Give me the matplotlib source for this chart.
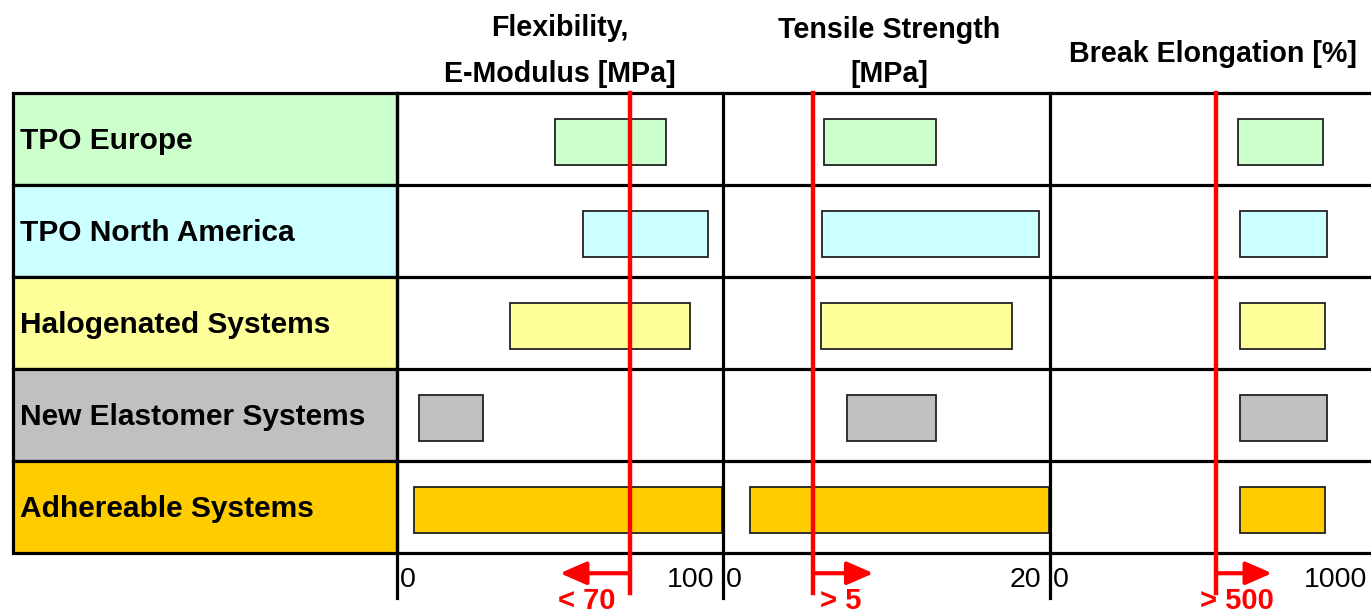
import matplotlib
matplotlib.use("Agg")
import matplotlib.pyplot as plt
from matplotlib.patches import Rectangle
import matplotlib.transforms as mtransforms

# ---------------- data ----------------
categories = ["TPO Europe", "TPO North America", "Halogenated Systems",
              "New Elastomer Systems", "Adhereable Systems"]
row_colors = ["#CCFFCC", "#CCFFFF", "#FFFF99", "#C0C0C0", "#FFCC00"]

panel_titles = ["Flexibility,\nE-Modulus [MPa]", "Tensile Strength\n[MPa]", "Break Elongation [%]"]
axis_max = [100, 20, 1000]
tick_left = ["0", "0", "0"]
tick_right = ["100", "20", "1000"]

# ranges (low, high) per category for each property
flex_low = [48.5, 57, 34.7, 6.7, 5.2]
flex_high = [82.5, 95.4, 89.9, 26.4, 99.7]
tensile_low = [6.2, 6.05, 6.0, 7.6, 1.65]
tensile_high = [13.0, 19.3, 17.7, 13.0, 19.95]
elong_low = [577, 583, 583, 583, 583]
elong_high = [837, 850, 844, 850, 844]

# requirement thresholds
thr_pos = [71.5, 5.5, 509]
thr_arrow_tip = [50, 9.2, 681]
thr_labels = ["< 70", "> 5", "> 500"]

lows = [flex_low, tensile_low, elong_low]
highs = [flex_high, tensile_high, elong_high]

# ---------------- layout ----------------
W, H = 1371, 615
fig = plt.figure(figsize=(W / 100, H / 100), dpi=100)


def rect(x0, x1, ytop, ybot):
    return [x0 / W, 1 - ybot / H, (x1 - x0) / W, (ybot - ytop) / H]


TOP, BOT = 93, 553
FONT = ["Liberation Sans", "DejaVu Sans"]
LW = 2.3
n = len(categories)

# label column
lab = fig.add_axes(rect(13, 397, TOP, BOT))
lab.set_xlim(0, 1)
lab.set_ylim(n, 0)
lab.axis("off")
for i, (c, col) in enumerate(zip(categories, row_colors)):
    lab.add_patch(Rectangle((0, i), 1, 1, facecolor=col, edgecolor="black",
                            lw=LW, clip_on=False))
    lab.text(0.018, i + 0.52, c, ha="left", va="center", fontsize=21.5,
             fontweight="bold", family=FONT)

# panels
panel_x = [(397, 723), (723, 1050), (1050, 1376)]
title_cx = [560, 889, 1213]
ypos = [i + 0.53 for i in range(n)]
for j in range(3):
    x0, x1 = panel_x[j]
    ax = fig.add_axes(rect(x0, x1, TOP, BOT))
    ax.set_xlim(0, axis_max[j])
    ax.set_ylim(n, 0)
    ax.axis("off")
    for k in range(n + 1):
        ax.plot([0, axis_max[j]], [k, k], color="black", lw=LW, clip_on=False,
                solid_capstyle="butt", zorder=3)
    ax.plot([0, 0], [0, 5.49], color="black", lw=LW, clip_on=False, zorder=3)
    ax.barh(ypos, [h - l for l, h in zip(lows[j], highs[j])], left=lows[j],
            height=0.5, color=row_colors, edgecolor="#222222", lw=1.3, zorder=2)
    # threshold
    ax.plot([thr_pos[j], thr_pos[j]], [0, 5.44], color="#FF0000", lw=3.2,
            clip_on=False, zorder=5)
    ax.annotate("", xy=(thr_arrow_tip[j], 5.22), xytext=(thr_pos[j], 5.22),
                arrowprops=dict(arrowstyle="-|>,head_length=0.8,head_width=0.35",
                                color="#FF0000", lw=3, shrinkA=0, shrinkB=0,
                                mutation_scale=20),
                annotation_clip=False, zorder=5)
    tx = [58.1, 7.19, 574][j]
    ax.text(tx, 5.52, thr_labels[j], ha="center", va="center", color="#FF0000",
            fontsize=21, fontweight="bold", family=FONT, clip_on=False)
    # tick labels
    tl = mtransforms.offset_copy(ax.transData, fig=fig, x=3, y=0, units="dots")
    tr = mtransforms.offset_copy(ax.transData, fig=fig, x=-9, y=0, units="dots")
    ax.text(0, 5.29, tick_left[j], transform=tl, ha="left", va="center",
            fontsize=20.5, family=FONT, clip_on=False)
    ax.text(axis_max[j], 5.29, tick_right[j], transform=tr, ha="right", va="center",
            fontsize=20.5, family=FONT, clip_on=False)

# titles
title_base = [[36, 82], [38, 82], [62]]
for j in range(3):
    for line, yb in zip(panel_titles[j].split("\n"), title_base[j]):
        fig.text(title_cx[j] / W, 1 - yb / H, line, ha="center", va="baseline",
                 fontsize=20.6, fontweight="bold", family=FONT)

fig.savefig("out.png", dpi=100)
